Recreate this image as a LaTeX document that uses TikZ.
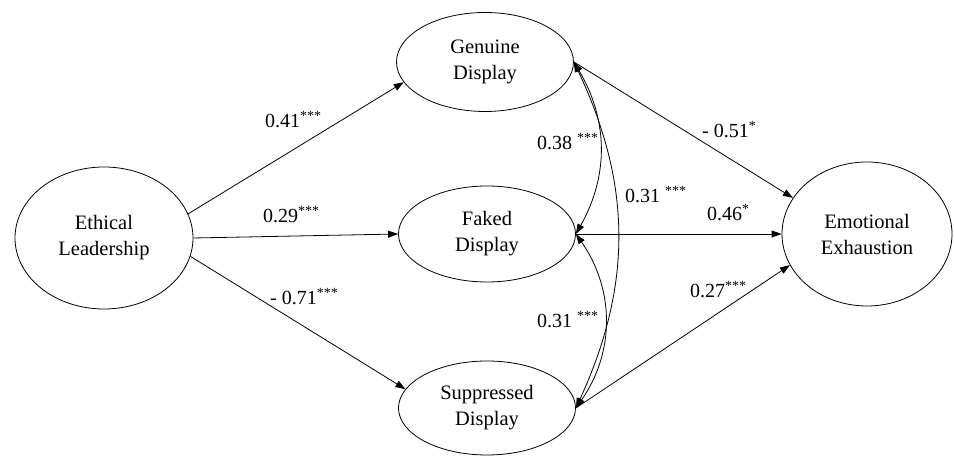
\documentclass[tikz,border=0pt]{standalone}
\usepackage{fontspec}
\setmainfont{Liberation Serif}
\usetikzlibrary{shapes.geometric,arrows.meta}
\begin{document}
\begin{tikzpicture}[x=1pt,y=1pt,
    latent/.style={draw, ellipse, line width=0.8pt, inner sep=0pt, align=center,
      font=\fontsize{20.5}{26}\selectfont},
    path/.style={-{Triangle[length=10pt,width=7pt]}, line width=0.8pt},
    cov/.style={{Triangle[length=10pt,width=7pt]}-{Triangle[length=10pt,width=7pt]}, line width=0.8pt},
    coef/.style={anchor=base west, inner sep=0pt, font=\fontsize{20}{24}\selectfont}]
  \useasboundingbox (0,0) rectangle (954,457);

  \node[latent, minimum width=178pt, minimum height=142pt] (eth) at (104,219) {Ethical\\Leadership};
  \node[latent, minimum width=177pt, minimum height=99pt] (gen) at (485,395) {Genuine\\Display};
  \node[latent, minimum width=177pt, minimum height=96pt] (fak) at (487,223) {Faked\\Display};
  \node[latent, minimum width=177pt, minimum height=94pt] (sup) at (487,49) {Suppressed\\Display};
  \node[latent, minimum width=170pt, minimum height=144pt] (emo) at (867,223) {Emotional\\Exhaustion};

  \draw[path] (eth.16) -- (gen.-166);
  \draw[path] (eth.east) -- (fak.west);
  \draw[path] (eth.-12) -- (sup.167);
  \draw[path] (gen.east) -- (emo.154);
  \draw[path] (fak.east) -- (emo.west);
  \draw[path] (sup.east) -- (emo.-158);

  \draw[cov] (gen.east) to[bend left=30] (fak.east);
  \draw[cov] (gen.east) to[bend left=25] (sup.east);
  \draw[cov] (fak.east) to[bend left=35] (sup.east);

  \node[coef] (w41) at (265,329) {0.41\textsuperscript{***}};
  \node[coef] (w29) at (263,234) {0.29\textsuperscript{***}};
  \node[coef] (w71) at (270,152) {- 0.71\textsuperscript{***}};
  \node[coef] (r38) at (537,307) {0.38 \textsuperscript{***}};
  \node[coef] (r31a) at (625,254) {0.31 \textsuperscript{***}};
  \node[coef] (r31b) at (537,129) {0.31 \textsuperscript{***}};
  \node[coef] (w51) at (702,319) {- 0.51\textsuperscript{*}};
  \node[coef] (w46) at (707,236) {0.46\textsuperscript{*}};
  \node[coef] (w27) at (690,159) {0.27\textsuperscript{***}};
\end{tikzpicture}
\end{document}
